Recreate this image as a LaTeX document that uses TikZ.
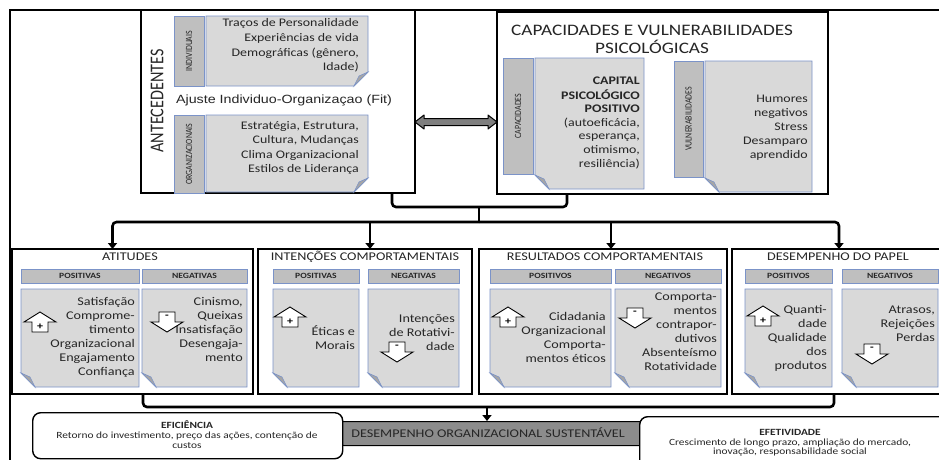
\documentclass[tikz,border=0pt]{standalone}
\usepackage{fontspec}
\setmainfont{Carlito}[FakeStretch=1.2]
\newfontfamily\rotf{Carlito}[FakeStretch=0.83]
\newfontfamily\arialf{Liberation Sans}[FakeStretch=1.2]
\usetikzlibrary{arrows.meta,calc}
\definecolor{docgray}{HTML}{D9D9D9}
\definecolor{tabgray}{HTML}{BFBFBF}
\definecolor{foldgray}{HTML}{A6A6A6}
\definecolor{bordblue}{HTML}{7B93C8}
\definecolor{textc}{HTML}{262626}
\definecolor{sustgray}{HTML}{8C8C8C}
\definecolor{arrgray}{HTML}{7F7F7F}
\newcommand\fsz[2]{\fontsize{#1}{#2}\selectfont}
\newcommand\docBL[4]{%
  \filldraw[fill=docgray, draw=bordblue, line width=0.8pt] (#1,#2) -- (#3,#2) -- (#3,#4) -- ({#1+14},#4) -- (#1,{#4-14}) -- cycle;
  \filldraw[fill=foldgray, draw=bordblue, line width=0.6pt] (#1,{#4-14}) -- ({#1+9},{#4-10}) -- ({#1+14},#4) -- cycle;}
\newcommand\docBR[4]{%
  \filldraw[fill=docgray, draw=bordblue, line width=0.8pt] (#1,#2) -- (#3,#2) -- (#3,{#4-14}) -- ({#3-14},#4) -- (#1,#4) -- cycle;
  \filldraw[fill=foldgray, draw=bordblue, line width=0.6pt] (#3,{#4-14}) -- ({#3-9},{#4-10}) -- ({#3-14},#4) -- cycle;}
\newcommand\tabR[4]{\filldraw[fill=tabgray, draw=bordblue, line width=0.8pt] (#1,#2) rectangle (#3,#4);}
\tikzset{
  bigbox/.style={draw=black, line width=1.5pt, fill=white, inner sep=0pt, outer sep=0pt, anchor=north west},
  conn/.style={draw=black, line width=2.6pt, rounded corners=4pt},
  tip/.style={-{Triangle[width=9pt,length=6pt]}},
  txt/.style={inner sep=0pt, align=right, anchor=north east, text=textc, font=\fsz{11.8}{14}},
  hdr/.style={inner sep=0pt, text=textc, font=\bfseries\fsz{8}{9}},
  ttl/.style={inner sep=0pt, text=textc, font=\fsz{11.8}{14}},
  vtab/.style={inner sep=0pt, rotate=90, text=textc, font=\rotf\fsz{9.5}{10}},
  plusarr/.pic={
    \draw[fill=white, line width=0.9pt] (0,-10) -- (16,0) -- (8,0) -- (8,10) -- (-8,10) -- (-8,0) -- (-16,0) -- cycle;
    \node[font=\bfseries\fsz{10}{10}, inner sep=0pt] at (0,5) {+};},
  minusarr/.pic={
    \draw[fill=white, line width=0.9pt] (0,10) -- (16,0) -- (8,0) -- (8,-10) -- (-8,-10) -- (-8,0) -- (-16,0) -- cycle;
    \node[font=\bfseries\fsz{10}{10}, inner sep=0pt] at (0,-5) {-};}
}
\begin{document}
\begin{tikzpicture}[x=1pt,y=-1pt]
\useasboundingbox (0,0) rectangle (939,459);
\clip (0,0) rectangle (939,459);
\fill[white] (0,0) rectangle (939,459);
% outer frame
\draw[line width=1.6pt] (10,470) -- (10,10) -- (950,10);

% ===== ANTECEDENTES =====
\node[bigbox, minimum width=274pt, minimum height=183pt] (ant) at (141,10) {};
\node[inner sep=0pt, rotate=90, text=textc, font=\rotf\fsz{19.5}{20}] (antl) at (157,101) {ANTECEDENTES};
\tabR{174}{16}{204}{86}
\docBR{206}{16}{368}{86}
\node[vtab] at (189,51) {INDIVIDUAIS};
\node[txt, font=\fsz{11.6}{14.6}] at (359,16.5) {\strut Traços de Personalidade\\Experiências de vida\\Demográficas (gênero,\\Idade)};
\node[inner sep=0pt, text=textc, font=\arialf\fsz{11.9}{14}] (fit) at (284,100) {Ajuste Individuo-Organizaçao (Fit)};
\tabR{174}{115}{204}{193}
\docBR{206}{115}{368}{192}
\node[vtab] at (189,154) {ORGANIZACIONAIS};
\node[txt, font=\fsz{11.6}{14.2}] at (359,119.5) {\strut Estratégia, Estrutura,\\Cultura, Mudanças\\Clima Organizacional\\Estilos de Liderança};

% ===== CAPACIDADES =====
\node[bigbox, minimum width=331pt, minimum height=182pt] (cap) at (497,12) {};
\node[inner sep=0pt, align=center, text=textc, font=\fsz{16}{18}] (capt) at (652,39) {CAPACIDADES E VULNERABILIDADES\\PSICOLÓGICAS};
\tabR{503}{58}{533}{174}
\docBL{535}{58}{644}{189}
\node[vtab] at (518,116) {CAPACIDADES};
\node[txt, font=\fsz{11.6}{13.6}] at (640,74.5) {\strut\textbf{CAPITAL}\\\textbf{PSICOLÓGICO}\\\textbf{POSITIVO}\\(autoeficácia,\\esperança,\\otimismo,\\resiliência)};
\tabR{674}{61}{703}{177}
\docBL{705}{61}{812}{192}
\node[vtab] at (688.5,119) {VULNERABILIDADES};
\node[txt, font=\fsz{11.6}{14.2}] at (808,92) {\strut Humores\\negativos\\Stress\\Desamparo\\aprendido};

% double arrow between the two upper boxes
\draw[fill=arrgray, line width=1pt, line join=round]
  (ant.east |- 0,122) -- ++(9,-7) -- ++(0,3.5) -- ++(64,0) -- ++(0,-3.5) -- (cap.west |- 0,122)
  -- ++(-9,7) -- ++(0,-3.5) -- ++(-64,0) -- ++(0,3.5) -- cycle;

% ===== lower boxes =====
\node[bigbox, minimum width=241pt, minimum height=145pt] (att) at (12,249) {};
\node[bigbox, minimum width=214pt, minimum height=145pt] (int) at (258,249) {};
\node[bigbox, minimum width=248pt, minimum height=145pt] (res) at (479,249) {};
\node[bigbox, minimum width=212pt, minimum height=145pt] (des) at (732,249) {};

% connectors top
\coordinate (antout) at ([xshift=-23pt]ant.south east);
\coordinate (capout) at ([xshift=70pt]cap.south west);
\coordinate (j1) at (479,207);
\coordinate (j2) at (479,222);
\draw[conn] (antout) |- (capout |- 0,207) -- (capout);
\draw[conn] (j1) -- (j2);
\draw[conn, tip] (j2) -| ([xshift=-20pt]att.north);
\draw[conn, tip] (j2) -| ([xshift=1pt]des.north);
\draw[conn, tip] ([xshift=5pt]int.north |- j2) -- ([xshift=5pt]int.north);
\draw[conn, tip] ([xshift=8pt]res.north |- j2) -- ([xshift=8pt]res.north);

% ATITUDES
\node[ttl] at (130,257) {ATITUDES};
\tabR{21}{269}{139}{283} \node[hdr] at (80,276) {POSITIVAS};
\tabR{142}{269}{247}{283} \node[hdr] at (194.5,276) {NEGATIVAS};
\docBL{21}{289}{139}{387}
\docBL{142}{289}{247}{387}
\node[txt] at (135,295) {\strut Satisfação\\Comprome-\\timento\\Organizacional\\Engajamento\\Confiança};
\node[txt] at (243,295) {\strut Cinismo,\\Queixas\\Insatisfação\\Desengaja-\\mento};
\pic at (40,322) {plusarr};
\pic at (167,322) {minusarr};

% INTENCOES
\node[ttl] at (365,257) {INTENÇÕES COMPORTAMENTAIS};
\tabR{273}{269}{359}{283} \node[hdr] at (316,276) {POSITIVAS};
\tabR{368}{269}{459}{283} \node[hdr] at (413.5,276) {NEGATIVAS};
\docBL{273}{289}{359}{387}
\docBL{368}{289}{459}{387}
\node[txt] at (355,325) {\strut Éticas e\\Morais};
\node[txt] at (455,312) {\strut Intenções\\de Rotativi-\\dade};
\pic at (290,317) {plusarr};
\pic at (397,352) {minusarr};

% RESULTADOS
\node[ttl] at (605,257) {RESULTADOS COMPORTAMENTAIS};
\tabR{490}{269}{611}{283} \node[hdr] at (550.5,276) {POSITIVOS};
\tabR{615}{269}{721}{283} \node[hdr] at (668,276) {NEGATIVOS};
\docBL{490}{289}{611}{387}
\docBL{615}{289}{721}{387}
\node[txt] at (606,310) {\strut Cidadania\\Organizacional\\Comporta-\\mentos éticos};
\node[txt] at (717,290) {\strut Comporta-\\mentos\\contrapor-\\dutivos\\Absenteísmo\\Rotatividade};
\pic at (508,317) {plusarr};
\pic at (635,318) {minusarr};

% DESEMPENHO DO PAPEL
\node[ttl] at (838,257) {DESEMPENHO DO PAPEL};
\tabR{745}{269}{832}{283} \node[hdr] at (788.5,276) {POSITIVOS};
\tabR{842}{269}{938}{283} \node[hdr] at (890,276) {NEGATIVOS};
\docBL{745}{289}{832}{387}
\docBL{842}{289}{938}{387}
\node[txt] at (827,303) {\strut Quanti-\\dade\\Qualidade\\dos\\produtos};
\node[txt] at (935,303) {\strut Atrasos,\\Rejeições\\Perdas};
\pic at (763,316) {plusarr};
\pic at (872,354) {minusarr};

% ===== bottom =====
\node[draw=black, fill=sustgray, line width=1pt, rounded corners=3pt, inner sep=0pt, anchor=north west,
  minimum width=305pt, minimum height=24pt, text=textc, font=\fsz{11.8}{14}] (sust) at (340,421) {};
\node[inner sep=0pt, text=textc, font=\fsz{11.8}{14}] (sustl) at (488,433) {DESEMPENHO ORGANIZACIONAL SUSTENTÁVEL};
\coordinate (attout) at ([xshift=10.5pt]att.south);
\coordinate (desout) at ([xshift=-4pt]des.south);
\coordinate (j3) at (487,407);
\draw[conn] (attout) |- (desout |- 0,407) -- (desout);
\draw[conn, tip] (j3) -- (j3 |- sust.north);

\node[draw=black, fill=white, line width=1.4pt, rounded corners=8pt, inner sep=0pt, anchor=north west,
  minimum width=310pt, minimum height=46pt] (efi) at (32,412) {};
\node[inner sep=0pt, align=center, text=textc, font=\fsz{9.5}{10}] (efit) at (187,434.5)
  {\textbf{EFICIÊNCIA}\\Retorno do investimento, preço das ações, contenção de\\custos};
\node[draw=black, fill=white, line width=1.4pt, rounded corners=8pt, inner sep=0pt, anchor=north west,
  minimum width=320pt, minimum height=55pt] (efe) at (639,416) {};
\node[inner sep=0pt, align=center, text=textc, font=\fsz{9.5}{9.6}] (efet) at (790,443)
  {\textbf{EFETIVIDADE}\\Crescimento de longo prazo, ampliação do mercado,\\inovação, responsabilidade social};
\end{tikzpicture}
\end{document}
